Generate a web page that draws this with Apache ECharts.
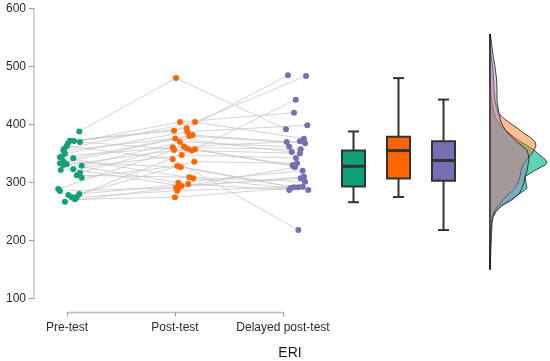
<!DOCTYPE html>
<html><head><meta charset="utf-8">
<script src="https://cdn.jsdelivr.net/npm/echarts@6/dist/echarts.min.js"></script>
<style>html,body{margin:0;padding:0;background:#fff}#c{width:550px;height:361px}</style>
</head><body><div id="c"></div>
<script>
// ---------------- data ----------------
const categories = ['Pre-test', 'Post-test', 'Delayed post-test'];
const axisTitle = 'ERI';
// one entry per participant (same order in all three arrays)
const preValues = [388,372,371.5,370,367.6,363,357.8,355,350,345,343.4,341.7,335.9,333,331.4,330,329,322.8,321.6,317,312.4,308.3,288.8,285.3,280,278.4,274.5,274.5,271,266.9];
const postValues = [480,393.4,389.3,355,404.3,340,404.3,376,387.6,362,307.2,381.9,326.2,380,299.7,358.3,370,294,347.4,360.7,309,328.4,356,291,335.9,297.4,357.2,285.9,274.5,292.7];
const delayedValues = [391.7,484.8,483.6,442.8,420.4,218.1,375.5,352.6,398.6,371,290.5,367.6,287,369.8,320.3,330,361.7,307.2,342.2,357.2,301.4,291.7,350.3,326.2,333,287,328,292.7,291.7,310];
// horizontal jitter of each point, in category units
const preJitter = [0.114,0.028,0.065,0.120,0.009,-0.003,-0.028,-0.034,-0.019,-0.046,-0.065,0.058,-0.028,-0.065,-0.003,-0.034,0.136,0.058,-0.058,0.120,0.090,0.136,-0.081,-0.065,0.114,0.012,0.044,0.090,0.074,-0.019];
const postJitter = [0.009,0.108,-0.009,0.155,0.046,-0.021,0.185,0.003,0.114,0.083,0.169,0.164,0.053,0.132,0.031,0.114,0.046,0.062,0.062,-0.021,0.132,0.021,-0.009,0.009,0.179,0.123,0.185,0.021,0,0.046];
const delayedJitter = [0.028,0.046,0.213,0.118,0.102,0.142,0.194,0.081,0.225,0.157,0.071,0.204,0.234,0.034,0.182,0.090,0.058,0.164,0.120,0.164,0.204,0.102,0.157,0.111,0.130,0.058,0.095,0.182,0.142,0.194];
// box plot statistics
const boxMin    = [266, 275, 218];
const boxQ1     = [293, 307, 303];
const boxMedian = [328, 355, 338];
const boxQ3     = [355, 379, 371];
const boxMax    = [388, 480, 443];
// density profiles (relative widths) at these ERI levels
const densityLevels  = [150,170,190,210,230,240,250,260,270,280,290,300,310,320,330,335,340,350,356,363,370,377,385,394,400,410,420,440,460,480,500,520,540,556];
const preDensity     = [0,0,0,0.3,1,2.5,5,11,20,29,37,36,35,44,55,57,55,48,44,38,31,25,19,13,10,6,4,1.5,0.5,0,0,0,0,0];
const postDensity    = [0,0,0.2,0.5,1.5,2.5,4,8,13,19,25,28,30,31,33,35,37,42,44,46,45,41,34,27,22,14,8,5,4,3.5,2.5,1,0.3,0];
const delayedDensity = [0.3,0.6,1,1.5,2,3,6,12,22,29,32,34,35,37,38,38.5,39,38,37,32,27,23,18,14,12,10,9,7,7,6.5,5,3,1.5,0.3];

// ---------------- style / layout ----------------
const colors = ['#12a079', '#ff6600', '#7570b3'];
const densityFills = ['rgba(30,195,152,0.72)', 'rgba(255,125,45,0.5)', 'rgba(150,132,200,0.45)'];
const PX = 108;                         // pixels per category step
const xMin = 1 - 33 / PX, xMax = xMin + 512 / PX;
const boxPos = [1 + 286.5 / PX, 1 + 331.5 / PX, 1 + 376.5 / PX];
const densityBase = 1 + 423 / PX;
const font = 'Liberation Sans, Arial, sans-serif';

const values = [preValues, postValues, delayedValues];
const jitters = [preJitter, postJitter, delayedJitter];
const densities = [preDensity, postDensity, delayedDensity];

const series = [];
// connecting lines per participant
for (let i = 0; i < preValues.length; i++) {
  series.push({
    type: 'line', xAxisIndex: 0, yAxisIndex: 0, silent: true, symbol: 'none', z: 1,
    lineStyle: { color: '#c9c9c9', width: 0.8 },
    data: [0, 1, 2].map(g => [g + 1 + jitters[g][i], values[g][i]])
  });
}
// points
[0, 1, 2].forEach(g => {
  series.push({
    type: 'scatter', xAxisIndex: 0, yAxisIndex: 0, z: 3, symbolSize: 6,
    itemStyle: { color: colors[g], opacity: 1 },
    data: values[g].map((v, i) => [g + 1 + jitters[g][i], v])
  });
});
// box plots
series.push({
  type: 'custom', xAxisIndex: 0, yAxisIndex: 0, z: 4,
  data: [0, 1, 2].map(g => [boxPos[g], boxMin[g], boxQ1[g], boxMedian[g], boxQ3[g], boxMax[g], g]),
  encode: { x: 0, y: [1, 2, 3, 4, 5] },
  renderItem: function (params, api) {
    const x = api.value(0), g = api.value(6);
    const pMin = api.coord([x, api.value(1)]);
    const pQ1 = api.coord([x, api.value(2)]);
    const pMed = api.coord([x, api.value(3)]);
    const pQ3 = api.coord([x, api.value(4)]);
    const pMax = api.coord([x, api.value(5)]);
    const cx = pMed[0], hw = 11.5, cw = 5.5;
    const st = { stroke: '#333333', lineWidth: 2, fill: null };
    return {
      type: 'group', children: [
        { type: 'line', shape: { x1: cx, y1: pMax[1], x2: cx, y2: pQ3[1] }, style: st },
        { type: 'line', shape: { x1: cx, y1: pQ1[1], x2: cx, y2: pMin[1] }, style: st },
        { type: 'line', shape: { x1: cx - cw, y1: pMax[1], x2: cx + cw, y2: pMax[1] }, style: st },
        { type: 'line', shape: { x1: cx - cw, y1: pMin[1], x2: cx + cw, y2: pMin[1] }, style: st },
        { type: 'rect', shape: { x: cx - hw, y: pQ3[1], width: 2 * hw, height: pQ1[1] - pQ3[1] },
          style: { fill: colors[g], stroke: '#333333', lineWidth: 2 } },
        { type: 'line', shape: { x1: cx - hw, y1: pMed[1], x2: cx + hw, y2: pMed[1] },
          style: { stroke: '#333333', lineWidth: 3 } }
      ]
    };
  }
});
// half-violin densities
series.push({
  type: 'custom', xAxisIndex: 0, yAxisIndex: 0, z: 2,
  data: [0, 1, 2].map(g => [densityBase, 350, g]),
  encode: { x: 0, y: 1 },
  renderItem: function (params, api) {
    const g = api.value(2);
    const d = densities[g];
    const pts = [api.coord([densityBase, densityLevels[0]])];
    for (let k = 0; k < densityLevels.length; k++) {
      const c = api.coord([densityBase, densityLevels[k]]);
      pts.push([c[0] + d[k], c[1]]);
    }
    pts.push(api.coord([densityBase, densityLevels[densityLevels.length - 1]]));
    return {
      type: 'polygon', shape: { points: pts },
      style: { fill: densityFills[g], stroke: '#1a1a1a', lineWidth: 0.8 }
    };
  }
});

const chart = echarts.init(document.getElementById('c'), null, { renderer: 'canvas' });
chart.setOption({
  animation: false,
  backgroundColor: '#ffffff',
  textStyle: { fontFamily: font },
  grid: [
    { left: 34, top: 8.5, width: 512, height: 290, containLabel: false, outerBoundsMode: 'none' },
    { left: 67, top: 8.5, width: 216, height: 290, containLabel: false, outerBoundsMode: 'none' }
  ],
  xAxis: [
    { gridIndex: 0, type: 'value', min: xMin, max: xMax,
      axisLine: { show: false }, axisTick: { show: false }, axisLabel: { show: false }, splitLine: { show: false },
      name: axisTitle, nameLocation: 'middle', nameGap: 48,
      nameTextStyle: { fontSize: 14, color: '#1a1a1a', fontFamily: font } },
    { gridIndex: 1, type: 'category', data: categories, boundaryGap: false, offset: 14,
      axisLine: { lineStyle: { color: '#bdbdbd', width: 1.3 } },
      axisTick: { show: true, length: 4, interval: 0, lineStyle: { color: '#9a9a9a', width: 1 } },
      axisLabel: { fontSize: 12, color: '#2b2b2b', margin: 9, interval: 0, hideOverlap: false, fontFamily: font },
      splitLine: { show: false } }
  ],
  yAxis: [
    { gridIndex: 0, type: 'value', min: 100, max: 600, interval: 100,
      axisLine: { show: true, lineStyle: { color: '#c4c4c4', width: 1.5 } },
      axisTick: { show: true, length: 5, lineStyle: { color: '#9a9a9a', width: 1 } },
      axisLabel: { fontSize: 12, color: '#2b2b2b', margin: 8, fontFamily: font },
      splitLine: { show: false } },
    { gridIndex: 1, type: 'value', min: 100, max: 600, show: false }
  ],
  series: series
});
</script></body></html>
